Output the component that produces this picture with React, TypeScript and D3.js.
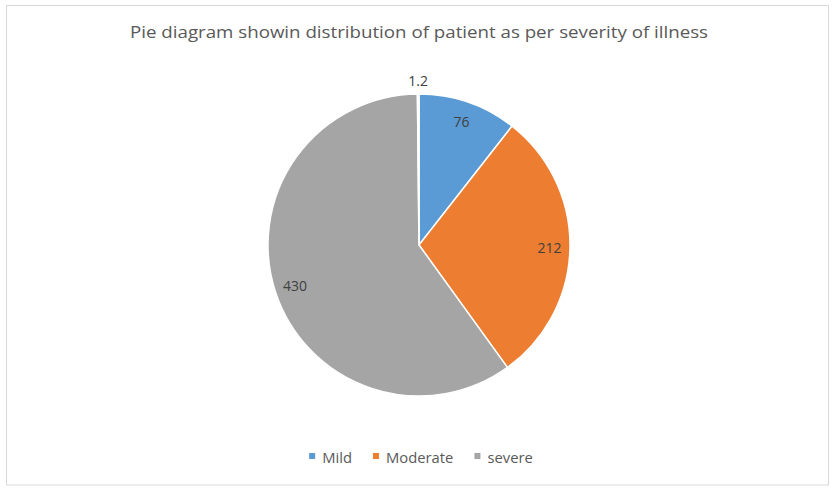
import React, { useLayoutEffect, useRef, useState } from "react";
import * as d3 from "d3";

const TITLE = "Pie diagram showin distribution of patient as per severity  of illness";
const categories = ["Mild", "Moderate", "severe", ""];
const values = [76, 212, 430, 1.2];
const valueLabels = ["76", "212", "430", "1.2"];
const colors = ["#5B9BD5", "#ED7D31", "#A5A5A5", "#FFC000"];

const W = 832;
const H = 494;
const CX = 419;
const CY = 245;
const R = 151;
const FONT = "'Open Sans', 'DejaVu Sans', sans-serif";
const LEGEND_FS = 14.8;

export default function App() {
  const legendRef = useRef<SVGGElement | null>(null);
  const [widths, setWidths] = useState<number[] | null>(null);

  const pie = d3
    .pie<number>()
    .sort(null)
    .value((d) => d)
    .startAngle(0)
    .endAngle(2 * Math.PI);
  const arcs = pie(values);
  const arcGen = d3.arc<d3.PieArcDatum<number>>().innerRadius(0).outerRadius(R);

  const legendItems = categories
    .map((c, i) => ({ name: c, color: colors[i], i }))
    .filter((d) => d.name !== "");

  useLayoutEffect(() => {
    if (!legendRef.current) return;
    const g = d3.select(legendRef.current);
    const ws: number[] = [];
    legendItems.forEach((d) => {
      const t = g
        .append("text")
        .attr("font-family", FONT)
        .attr("font-size", LEGEND_FS)
        .attr("visibility", "hidden")
        .text(d.name);
      ws.push((t.node() as SVGTextElement).getComputedTextLength());
      t.remove();
    });
    setWidths(ws);
  }, []);

  const sq = 6;
  const gapSqText = 7;
  const gapItems = 21;
  let legendPositions: number[] = [];
  if (widths) {
    const total =
      widths.reduce((a, w) => a + sq + gapSqText + w, 0) + gapItems * (widths.length - 1);
    let x = 421 - total / 2;
    legendPositions = widths.map((w) => {
      const p = x;
      x += sq + gapSqText + w + gapItems;
      return p;
    });
  }

  const labelPos = (a: d3.PieArcDatum<number>) => {
    const mid = (a.startAngle + a.endAngle) / 2;
    const span = a.endAngle - a.startAngle;
    const r = span < 0.1 ? R + 14 : R * 0.865;
    return [CX + r * Math.sin(mid), CY - r * Math.cos(mid)];
  };

  return (
    <div style={{ position: "absolute", left: 0, top: 0 }}>
      <svg width={W} height={H} style={{ display: "block", background: "#fff" }}>
        <rect x={6.5} y={5.5} width={822} height={479.5} fill="#fff" stroke="#D9D9D9" strokeWidth={1} />
        <text
          x={419}
          y={38}
          textAnchor="middle"
          fontFamily={FONT}
          fontSize={16}
          fill="#595959"
          textLength={578}
          lengthAdjust="spacingAndGlyphs"
        >
          {TITLE}
        </text>
        <g>
          {arcs.map((a, i) => (
            <path
              key={i}
              d={arcGen(a) || ""}
              transform={`translate(${CX},${CY})`}
              fill={colors[i]}
              stroke="#fff"
              strokeWidth={1.5}
              strokeLinejoin="round"
            />
          ))}
        </g>
        <g>
          {arcs.map((a, i) => {
            const [x, y] = labelPos(a);
            return (
              <text
                key={i}
                x={x}
                y={y}
                textAnchor="middle"
                dominantBaseline="central"
                fontFamily={FONT}
                fontSize={14}
                fill="#404040"
              >
                {valueLabels[i]}
              </text>
            );
          })}
        </g>
        <g ref={legendRef}>
          {widths &&
            legendItems.map((d, k) => (
              <g key={k} transform={`translate(${legendPositions[k]},0)`}>
                <rect x={0} y={453} width={sq} height={sq} fill={d.color} />
                <text
                  x={sq + gapSqText}
                  y={457}
                  dominantBaseline="central"
                  fontFamily={FONT}
                  fontSize={LEGEND_FS}
                  fill="#595959"
                >
                  {d.name}
                </text>
              </g>
            ))}
        </g>
      </svg>
    </div>
  );
}
